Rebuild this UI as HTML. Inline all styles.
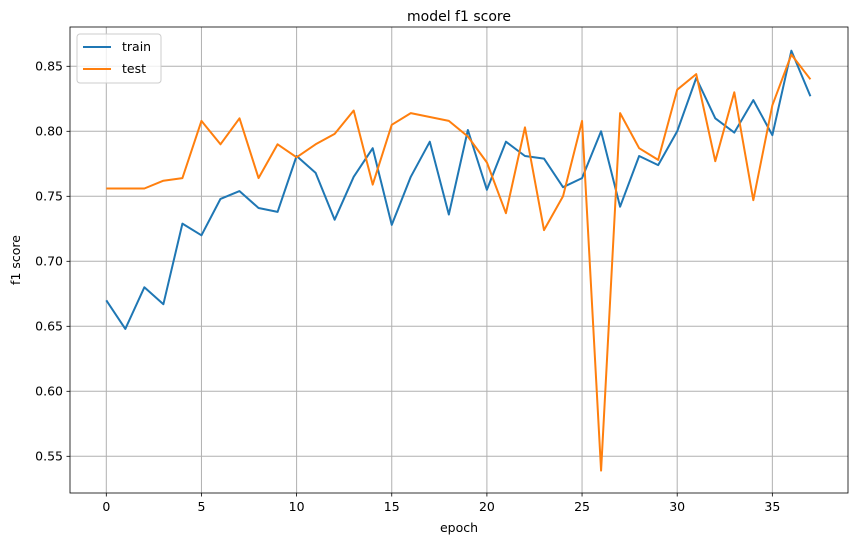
<!DOCTYPE html>
<html><head><meta charset="utf-8"><style>
body{margin:0;background:#fff;}
svg{display:block;font-family:"DejaVu Sans","Liberation Sans",sans-serif;}
</style></head><body>
<svg id="chart" width="855" height="545" viewBox="0 0 855 545">
<text x="459" y="21" font-size="14" text-anchor="middle">model f1 score</text>
<g id="grid"></g>
<g id="ticks" font-size="12.5"></g>
<g id="series"></g>
<rect x="70" y="27" width="778" height="466" fill="none" stroke="#000" stroke-width="0.8"/>
<text x="459" y="532" font-size="12.5" text-anchor="middle">epoch</text>
<text x="20" y="260" font-size="12.5" text-anchor="middle" transform="rotate(-90 20 260)">f1 score</text>
<g>
<rect x="77" y="34" width="84" height="49" rx="3" fill="#fff" fill-opacity="0.8" stroke="#ccc"/>
<g><line x1="83" y1="47" x2="111" y2="47" stroke="#1f77b4" stroke-width="2"/><text x="122" y="51" font-size="12.5">train</text></g>
<g><line x1="83" y1="69" x2="111" y2="69" stroke="#ff7f0e" stroke-width="2"/><text x="122" y="73" font-size="12.5">test</text></g>
</g>
</svg>
<script>
const xTicks=[0,5,10,15,20,25,30,35];
const yTicks=[0.55,0.60,0.65,0.70,0.75,0.80,0.85];
const trainValues=[.670,.648,.680,.667,.729,.720,.748,.754,.741,.738,.781,.768,.732,.765,.787,.728,.765,.792,.736,.801,.755,.792,.781,.779,.757,.764,.800,.742,.781,.774,.800,.841,.810,.799,.824,.797,.862,.827];
const testValues=[.756,.756,.756,.762,.764,.808,.790,.810,.764,.790,.780,.790,.798,.816,.759,.805,.814,.811,.808,.796,.776,.737,.803,.724,.750,.808,.539,.814,.787,.778,.832,.844,.777,.830,.747,.820,.859,.840];
const NS="http://www.w3.org/2000/svg";
const sx=v=>106.3+v*19.03;
const sy=v=>456.3-(v-0.55)*1300;
const grid=document.getElementById('grid'),ticks=document.getElementById('ticks'),series=document.getElementById('series');
function mk(tag,attrs,parent){const e=document.createElementNS(NS,tag);for(const k in attrs)e.setAttribute(k,attrs[k]);parent.appendChild(e);return e;}
xTicks.forEach(t=>{
 const gl=mk('line',{x1:sx(t),x2:sx(t),y1:27,y2:493,stroke:'#b0b0b0','stroke-width':1},grid);
 
 
 mk('line',{x1:sx(t),x2:sx(t),y1:493,y2:496.5,stroke:'#000','stroke-width':0.8},ticks);
 const tx=mk('text',{x:sx(t),y:511,'text-anchor':'middle'},ticks);tx.textContent=t;
 
 
});
yTicks.forEach(t=>{
 const gl=mk('line',{x1:70,x2:848,y1:sy(t),y2:sy(t),stroke:'#b0b0b0','stroke-width':1},grid);
 
 
 mk('line',{x1:66.5,x2:70,y1:sy(t),y2:sy(t),stroke:'#000','stroke-width':0.8},ticks);
 const tx=mk('text',{x:63,y:sy(t)+4,'text-anchor':'end'},ticks);tx.textContent=t.toFixed(2);
 
 
});
function line(vals,color,name){
 const p=mk('polyline',{points:vals.map((v,i)=>sx(i)+','+sy(v)).join(' '),fill:'none',stroke:color,'stroke-width':2,'stroke-linejoin':'round'},series);
 
 
}
line(trainValues,'#1f77b4','train-line');
line(testValues,'#ff7f0e','test-line');
</script>
</body></html>
